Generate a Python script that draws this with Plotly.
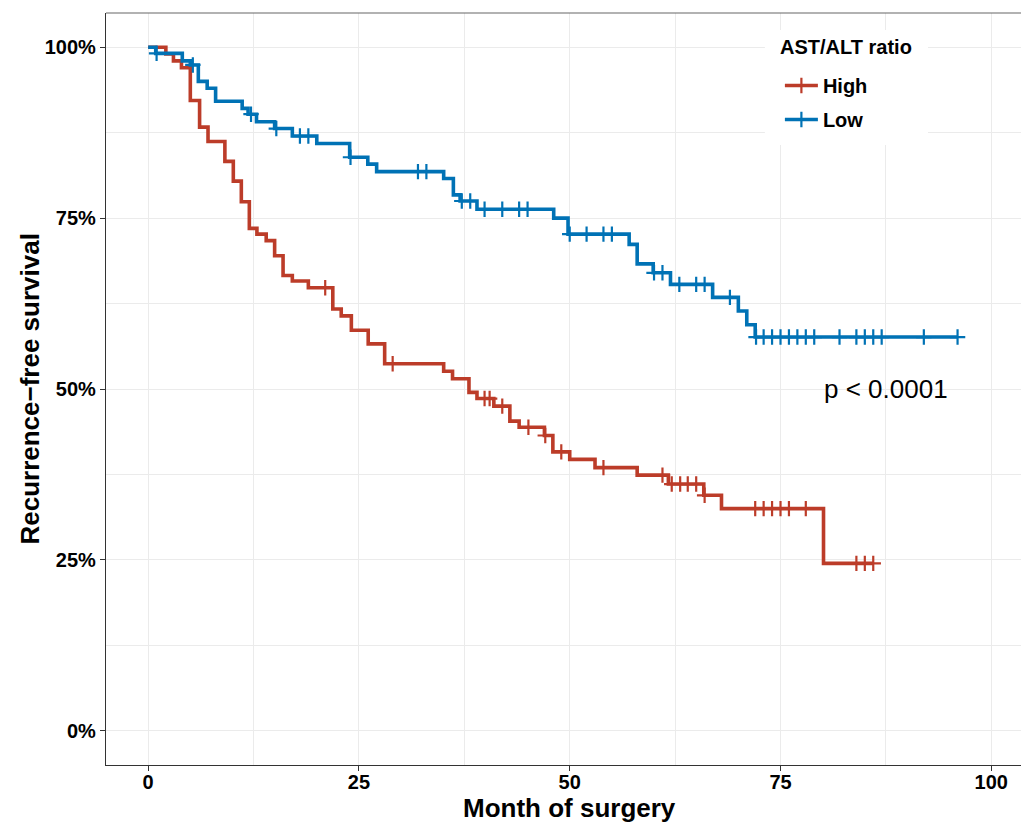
import numpy as np
import plotly.graph_objects as go

# ---- data (months, survival %) ----
high_times = [0, 2.1, 3.0, 3.95, 5.0, 6.1, 7.1, 9.1, 10.1, 11.05, 12.0, 12.9, 14.0, 15.0,
              16.0, 17.1, 19.0, 21.9, 22.9, 24.1, 26.1, 28.05, 35.05, 36.1, 38.05, 39.0,
              41.0, 42.9, 44.0, 47.0, 48.0, 50.0, 53.0, 58.0, 61.7, 65.9, 68.0, 80.1]
high_surv = [100, 99.0, 98.0, 97.0, 92.2, 88.3, 86.2, 83.3, 80.4, 77.4, 73.5, 72.65, 71.7, 69.5,
             66.6, 65.8, 64.8, 61.7, 60.7, 58.6, 56.6, 53.7, 52.6, 51.5, 49.5, 48.6,
             47.5, 45.3, 44.4, 43.2, 40.8, 39.7, 38.5, 37.4, 36.1, 34.45, 32.5, 24.5]
high_censor = [21.0, 29.0, 39.9, 40.5, 42.0, 45.1, 47.1, 49.0, 54.0, 61.0, 62.1, 63.1, 64.0,
               65.0, 66.0, 72.0, 73.0, 74.0, 75.0, 76.0, 78.0, 84.0, 85.0, 86.0]
high_end = 86.0

low_times = [0, 0.9, 4.05, 5.0, 5.95, 7.0, 8.0, 11.15, 11.85, 12.85, 15.0, 17.1, 20.0, 23.9,
             26.05, 27.1, 35.05, 36.2, 37.0, 39.0, 48.1, 49.8, 57.05, 58.0, 59.9, 61.95,
             66.95, 70.0, 71.0, 72.0]
low_surv = [100, 99.1, 98.0, 97.4, 95.0, 94.0, 92.1, 91.05, 90.2, 89.1, 88.1, 87.0, 85.9, 83.9,
            82.9, 81.8, 80.8, 78.4, 77.5, 76.3, 75.0, 72.65, 71.15, 68.3, 67.0, 65.3,
            63.4, 61.4, 59.4, 57.6]
low_censor = [1.0, 5.3, 12.2, 15.2, 18.0, 19.0, 24.0, 32.0, 33.0, 37.2, 38.2, 39.9, 42.0, 44.0,
              45.0, 50.0, 52.0, 54.0, 55.0, 60.0, 61.0, 63.0, 65.0, 66.0, 69.0, 72.1, 73.0,
              74.0, 75.0, 76.0, 77.0, 78.0, 79.0, 82.0, 84.0, 85.0, 86.0, 87.0, 92.0, 96.0]
low_end = 96.0

group_names = ["High", "Low"]
group_colors = ["#BC3C29", "#0072B5"]

x_ticks = [0, 25, 50, 75, 100]
y_ticks = [0, 0.25, 0.5, 0.75, 1.0]
y_ticklabels = ["0%", "25%", "50%", "75%", "100%"]

FONT = "Liberation Sans, Arial, sans-serif"

fig = go.Figure()

series = [
    (high_times, high_surv, high_censor, high_end),
    (low_times, low_surv, low_censor, low_end),
]

for (times, surv, cens, end), name, col in zip(series, group_names, group_colors):
    t = np.array(times, dtype=float)
    s = np.array(surv, dtype=float) / 100.0
    xs = list(t) + [end]
    ys = list(s) + [s[-1]]
    fig.add_trace(go.Scatter(x=xs, y=ys, mode="lines", line=dict(color=col, width=3.6, shape="hv"),
                             showlegend=False, hoverinfo="skip"))
    c = np.array(cens, dtype=float)
    idx = np.searchsorted(t, c, side="right") - 1
    fig.add_trace(go.Scatter(x=c, y=s[idx], mode="markers",
                             marker=dict(symbol="cross-thin", size=11,
                                         line=dict(color=col, width=2.2)),
                             showlegend=False, hoverinfo="skip"))

# legend entries
for name, col in zip(group_names, group_colors):
    fig.add_trace(go.Scatter(x=[None], y=[None], mode="lines+markers", name=name,
                             legendgroup=name,
                             line=dict(color=col, width=3.6),
                             marker=dict(symbol="cross-thin", size=11, line=dict(color=col, width=2.2))))

W, H = 1021, 823
ml, mt, mb = 106.4, 13, 58
xpx0, xscale = 148.5, 8.428
x_right = (W - xpx0) / xscale
plot_h = H - mt - mb
plot_w = W - ml


def px_to_paper_x(px):
    return (px - ml) / plot_w


def px_to_paper_y(py):
    return 1 - (py - mt) / plot_h


fig.update_layout(
    width=W, height=H,
    margin=dict(l=ml, r=0, t=mt, b=mb, autoexpand=False),
    plot_bgcolor="white", paper_bgcolor="white",
    font=dict(family=FONT, color="black"),
    showlegend=True,
    legend=dict(
        x=px_to_paper_x(780), y=px_to_paper_y(66), xanchor="left", yanchor="top",
        bgcolor="white",
        font=dict(family=FONT, size=20, weight="bold", color="black"),
        itemwidth=33,
        tracegroupgap=5,
    ),
)

fig.update_xaxes(
    range=[-5, x_right],
    tickvals=x_ticks, ticktext=[str(v) for v in x_ticks],
    tickfont=dict(family=FONT, size=20, weight="bold", color="black"),
    ticks="outside", ticklen=5, tickwidth=1.2, tickcolor="#333333",
    ticklabelstandoff=-6,
    showline=True, linecolor="#333333", linewidth=1.2, mirror=False,
    showgrid=True, gridcolor="#EBEBEB", gridwidth=1.2,
    minor=dict(tickvals=[12.5, 37.5, 62.5, 87.5], showgrid=True, gridcolor="#EBEBEB", gridwidth=1.0, ticks=""),
    zeroline=False,
)
fig.update_yaxes(
    range=[-0.05, 1.05],
    tickvals=y_ticks, ticktext=y_ticklabels,
    tickfont=dict(family=FONT, size=20, weight="bold", color="black"),
    ticks="outside", ticklen=5, tickwidth=1.2, tickcolor="#333333",
    showline=True, linecolor="#333333", linewidth=1.2, mirror=False,
    showgrid=True, gridcolor="#EBEBEB", gridwidth=1.2,
    minor=dict(tickvals=[0.125, 0.375, 0.625, 0.875], showgrid=True, gridcolor="#EBEBEB", gridwidth=1.0, ticks=""),
    zeroline=False,
)

# top border of panel
fig.add_shape(type="line", xref="paper", yref="paper", x0=0, x1=1, y0=1, y1=1,
              line=dict(color="#666666", width=1.2))
# white legend background box (covers grid lines like the reference legend)
fig.add_shape(type="rect", xref="paper", yref="paper", layer="above",
              x0=px_to_paper_x(765), x1=px_to_paper_x(928),
              y0=px_to_paper_y(145), y1=px_to_paper_y(30),
              fillcolor="white", line=dict(width=0))

# legend title
fig.add_annotation(text="AST/ALT ratio", x=px_to_paper_x(778), xref="paper", xanchor="left",
                   y=px_to_paper_y(47), yref="paper", yanchor="middle", showarrow=False,
                   font=dict(family=FONT, size=20, weight="bold", color="black"))

fig.add_annotation(text="Month of surgery", x=50, xref="x",
                   y=px_to_paper_y(808), yref="paper", yanchor="middle",
                   showarrow=False, font=dict(family=FONT, size=26, weight="bold", color="black"))
fig.add_annotation(text="Recurrence\u2212free survival", x=px_to_paper_x(30), xref="paper",
                   y=0.5, yref="paper", textangle=-90, xanchor="center", yanchor="middle",
                   showarrow=False, font=dict(family=FONT, size=26, weight="bold", color="black"))
fig.add_annotation(text="p < 0.0001", x=87.5, xref="x", y=0.50, yref="y",
                   showarrow=False, font=dict(family=FONT, size=26, color="black"))

fig.write_html("out.html",
               config={"displayModeBar": False},
               post_script="document.body.style.margin='0px';document.body.style.overflow='hidden';")
